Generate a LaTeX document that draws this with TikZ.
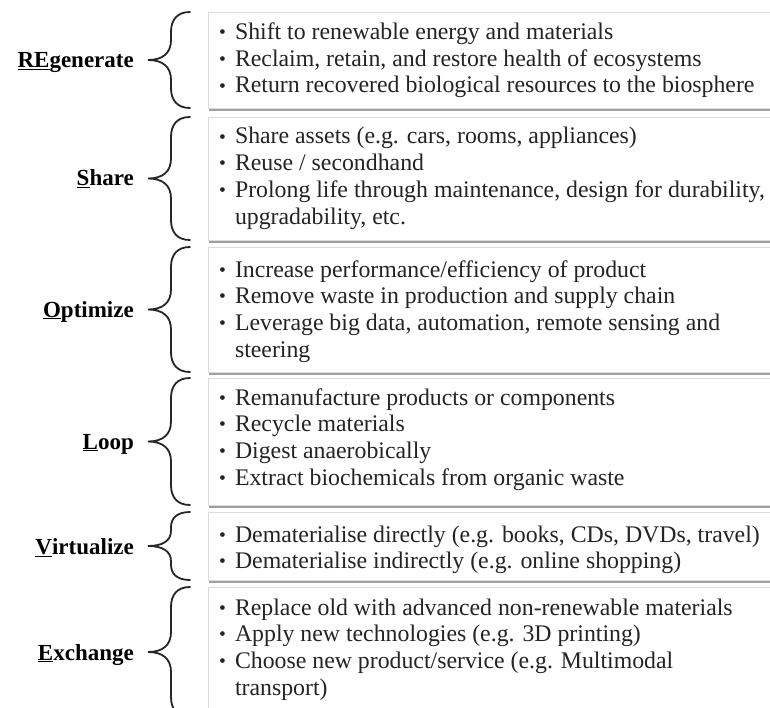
\documentclass[tikz,border=0pt]{standalone}
\usepackage{fontspec}
\setmainfont{Liberation Serif}
\usetikzlibrary{shadows}
\definecolor{ink}{HTML}{242424}

% small list dot
\newcommand{\listdot}{\raisebox{0.8pt}{\fontsize{19.5}{19.5}\selectfont\textbullet}}

% curly brace opening to the right: top y, bottom y
\newcommand{\sidebrace}[2]{%
  \pgfmathsetmacro\bT{#1}\pgfmathsetmacro\bB{#2}%
  \pgfmathsetmacro\bM{(\bT+\bB)/2}%
  \pgfmathsetmacro\bR{min(20,0.45*(\bM-\bT))}%
  \draw[bracestroke] (190,\bT) .. controls (177,\bT) and (171,\bT+0.4*\bR) .. (171,\bT+\bR)
    -- (171,\bM-\bR) .. controls (171,\bM-0.35*\bR) and (163,\bM) .. (148,\bM)
    .. controls (163,\bM) and (171,\bM+0.35*\bR) .. (171,\bM+\bR)
    -- (171,\bB-\bR) .. controls (171,\bB-0.4*\bR) and (177,\bB) .. (190,\bB);%
}

\begin{document}
\begin{tikzpicture}[x=1pt,y=-1pt,
  panel/.style={draw=gray!28, line width=1.3pt, fill=white, anchor=north west,
    minimum width=620pt, inner sep=0pt,
    drop shadow={shadow xshift=0.6pt, shadow yshift=-2.4pt, fill=gray!75, opacity=1}},
  items/.style={anchor=base west, inner sep=0pt, text=ink,
    font=\fontsize{23.8}{26.7}\selectfont},
  lab/.style={anchor=base east, inner sep=0pt, text=black,
    font=\fontsize{23}{26.7}\selectfont\bfseries},
  bracestroke/.style={draw=black!85, line width=1.8pt, line cap=round}]
\clip (0,0) rectangle (770,708);
\fill[white] (0,0) rectangle (770,708);

% panels
\node[panel, minimum height=96pt]  (b1) at (208,12)  {};
\node[panel, minimum height=123pt] (b2) at (208,117) {};
\node[panel, minimum height=125pt] (b3) at (208,247) {};
\node[panel, minimum height=127pt] (b4) at (208,378) {};
\node[panel, minimum height=68pt]  (b5) at (208,512) {};
\node[panel, minimum height=130pt] (b6) at (208,587) {};

% braces
\sidebrace{12}{108}
\sidebrace{117}{240}
\sidebrace{247}{372}
\sidebrace{378}{505}
\sidebrace{512}{580}
\sidebrace{587}{717}

% strategy names
\node[lab] (l1) at (134,68)  {\underline{RE}generate};
\node[lab] (l2) at (134,186) {\underline{S}hare};
\node[lab] (l3) at (134,317) {\underline{O}ptimize};
\node[lab] (l4) at (134,449) {\underline{L}oop};
\node[lab] (l5) at (134,554) {\underline{V}irtualize};
\node[lab] (l6) at (134,660) {\underline{E}xchange};

% bullet lists
\node[items] (t1) at (219,39.5) {\begin{tabular}[t]{@{}l@{\hspace{9pt}}l@{}}
\listdot & Shift to renewable energy and materials\\
\listdot & Reclaim, retain, and restore health of ecosystems\\
\listdot & Return recovered biological resources to the biosphere
\end{tabular}};
\node[items] (t2) at (219,144) {\begin{tabular}[t]{@{}l@{\hspace{9pt}}l@{}}
\listdot & Share assets (e.g. cars, rooms, appliances)\\
\listdot & Reuse / secondhand\\
\listdot & Prolong life through maintenance, design for durability,\\
 & upgradability, etc.
\end{tabular}};
\node[items] (t3) at (219,277) {\begin{tabular}[t]{@{}l@{\hspace{9pt}}l@{}}
\listdot & Increase performance/efficiency of product\\
\listdot & Remove waste in production and supply chain\\
\listdot & Leverage big data, automation, remote sensing and\\
 & steering
\end{tabular}};
\node[items] (t4) at (219,405) {\begin{tabular}[t]{@{}l@{\hspace{9pt}}l@{}}
\listdot & Remanufacture products or components\\
\listdot & Recycle materials\\
\listdot & Digest anaerobically\\
\listdot & Extract biochemicals from organic waste
\end{tabular}};
\node[items] (t5) at (219,542) {\begin{tabular}[t]{@{}l@{\hspace{9pt}}l@{}}
\listdot & Dematerialise directly (e.g. books, CDs, DVDs, travel)\\
\listdot & Dematerialise indirectly (e.g. online shopping)
\end{tabular}};
\node[items] (t6) at (219,615) {\begin{tabular}[t]{@{}l@{\hspace{9pt}}l@{}}
\listdot & Replace old with advanced non-renewable materials\\
\listdot & Apply new technologies (e.g. 3D printing)\\
\listdot & Choose new product/service (e.g. Multimodal\\
 & transport)
\end{tabular}};
\end{tikzpicture}
\end{document}
